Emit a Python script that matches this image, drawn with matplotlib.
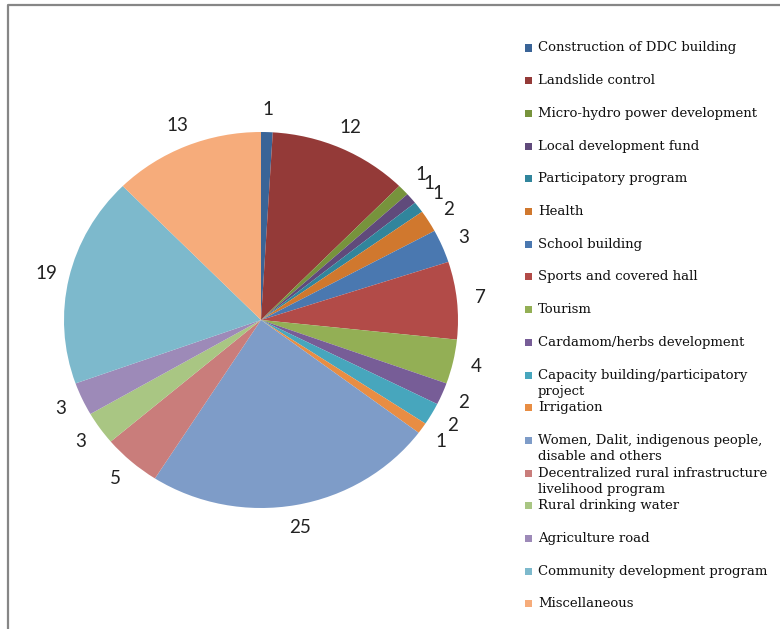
import matplotlib
matplotlib.use("Agg")
import matplotlib.pyplot as plt
import numpy as np
from matplotlib.patches import Rectangle
from matplotlib.lines import Line2D

# Funding categories and their counts (clockwise from 12 o'clock)
categories = [
    "Construction of DDC building",
    "Landslide control",
    "Micro-hydro power development",
    "Local development fund",
    "Participatory program",
    "Health",
    "School building",
    "Sports and covered hall",
    "Tourism",
    "Cardamom/herbs development",
    "Capacity building/participatory\nproject",
    "Irrigation",
    "Women, Dalit, indigenous people,\ndisable and others",
    "Decentralized rural infrastructure\nlivelihood program",
    "Rural drinking water",
    "Agriculture road",
    "Community development program",
    "Miscellaneous",
]
values = [1, 12, 1, 1, 1, 2, 3, 7, 4, 2, 2, 1, 25, 5, 3, 3, 19, 13]

colors = [
    "#3A6497", "#943A38", "#77933C", "#604A7B", "#31859C", "#D0782E",
    "#4A78B0", "#B24B48", "#93AF55", "#775D97", "#47A6BD", "#E88D43",
    "#7E9CC8", "#C97D7B", "#A9C683", "#9D8AB8", "#7DB9CC", "#F6AC7B",
]

W, H = 780, 629
fig = plt.figure(figsize=(W / 100, H / 100), dpi=100)
fig.patch.set_facecolor("white")

# Pie axes: centre at (261, 320) px, radius ~197 px wide, ~188 px tall
cx, cy, rx, ry = 261, 320, 197, 188
ax = fig.add_axes([(cx - 1.25 * rx) / W, (H - cy - 1.25 * ry) / H,
                   2.5 * rx / W, 2.5 * ry / H])
wedges, texts = ax.pie(
    values,
    labels=[str(v) for v in values],
    colors=colors,
    startangle=90,
    counterclock=False,
    labeldistance=1.12,
    wedgeprops=dict(linewidth=0),
    textprops=dict(fontsize=13.5, family="Lato", color="#222222"),
)
for t in texts:
    t.set_ha("center")
    t.set_va("center")
ax.set_aspect("auto")
ax.set_xlim(-1.25, 1.25)
ax.set_ylim(-1.25, 1.25)
ax.axis("off")

# Hand-drawn legend on the right
y0, step = 48, 32.7
for i, (name, col) in enumerate(zip(categories, colors)):
    y = y0 + i * step
    fig.patches.append(Rectangle((525 / W, (H - y - 3.5) / H), 7 / W, 7 / H,
                                 transform=fig.transFigure, facecolor=col,
                                 edgecolor="none"))
    lines = name.split("\n")
    for j, line in enumerate(lines):
        fig.text(538 / W, (H - y - j * 16) / H, line, fontsize=9.5,
                 family="DejaVu Serif", color="#111111",
                 ha="left", va="center")

# Frame lines along the top and left edges
fig.lines.append(Line2D([8 / W, 8 / W, 1.0], [0.0, 1 - 5 / H, 1 - 5 / H],
                        transform=fig.transFigure, color="#868686",
                        linewidth=1.6))

fig.savefig("out.png", dpi=100)
